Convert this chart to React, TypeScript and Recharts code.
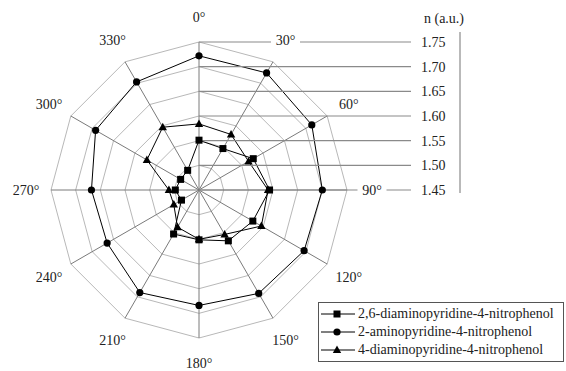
import React from "react";
import {
  RadarChart,
  Radar,
  PolarGrid,
  PolarAngleAxis,
  PolarRadiusAxis,
  Legend,
} from "recharts";

const angles = ["0°", "30°", "60°", "90°", "120°", "150°", "180°", "210°", "240°", "270°", "300°", "330°"];
const diaminopyridine = [1.551, 1.547, 1.577, 1.593, 1.576, 1.569, 1.551, 1.553, 1.491, 1.498, 1.493, 1.496];
const aminopyridine = [1.722, 1.724, 1.714, 1.7, 1.696, 1.692, 1.684, 1.69, 1.665, 1.668, 1.692, 1.703];
const diaminopyridine4 = [1.584, 1.58, 1.566, 1.59, 1.596, 1.554, 1.55, 1.537, 1.509, 1.511, 1.572, 1.597];

const data = angles.map((a, i) => ({
  angle: a,
  sq: diaminopyridine[i],
  ci: aminopyridine[i],
  tr: diaminopyridine4[i],
}));

const FONT = "Liberation Serif, Times New Roman, serif";
const TEXT = "#222";

function marker(kind: string, cx: number, cy: number, key?: any) {
  if (kind === "sq") return <rect key={key} x={cx - 3.5} y={cy - 3.5} width={7} height={7} fill="#000" />;
  if (kind === "ci") return <circle key={key} cx={cx} cy={cy} r={3.6} fill="#000" />;
  return <path key={key} d={`M${cx},${cy - 4.5}L${cx + 4.2},${cy + 3}L${cx - 4.2},${cy + 3}Z`} fill="#000" />;
}

const dotFor = (kind: string) => (p: any) => marker(kind, p.cx, p.cy, `${kind}-${p.index}`);

const AngleTick = (p: any) => {
  const a = (p.payload.coordinate * Math.PI) / 180;
  const r = (p.radius ?? 148) + 25;
  const x = p.cx + r * Math.cos(a);
  const y = p.cy - r * Math.sin(a);
  const label = String(p.payload.value);
  const w = label.length * 7 + 8;
  return (
    <g>
      <rect x={x - w / 2} y={y - 9} width={w} height={18} fill="#fff" />
      <text x={x} y={y} dy={5} textAnchor="middle" fontFamily={FONT} fontSize={14} fill={TEXT}>
        {label}
      </text>
    </g>
  );
};

const RadiusTick = (p: any) => {
  return (
    <g>
      <line x1={p.x} y1={p.y} x2={411} y2={p.y} stroke="#8a8a8a" strokeWidth={1.2} />
      <text x={421} y={p.y} dy={5} textAnchor="start" fontFamily={FONT} fontSize={14} fill={TEXT}>
        {Number(p.payload.value).toFixed(2)}
      </text>
    </g>
  );
};

const LegendBox = (props: any) => {
  const items = props.payload || [];
  return (
    <div
      style={{
        border: "1px solid #555",
        background: "#fff",
        padding: "2px 0",
        fontFamily: FONT,
        fontSize: 14,
        color: TEXT,
        lineHeight: "18px",
        width: 244,
      }}
    >
      {items.map((it: any) => (
        <div key={it.value} style={{ display: "flex", alignItems: "center", height: 18 }}>
          <svg width={38} height={18} style={{ flex: "none" }}>
            <line x1={2} y1={9} x2={36} y2={9} stroke="#000" strokeWidth={1} />
            {marker(it.dataKey, 18, 9)}
          </svg>
          <span style={{ marginLeft: 1, whiteSpace: "nowrap" }}>{it.value}</span>
        </div>
      ))}
    </div>
  );
};

export default function App() {
  return (
    <div style={{ position: "absolute", left: 0, top: 0, width: 566, height: 371, background: "#fff", fontFamily: FONT }}>
      <RadarChart
        width={566}
        height={371}
        cx={199}
        cy={190}
        outerRadius={148}
        data={data}
        margin={{ top: 0, right: 0, bottom: 0, left: 0 }}
      >
        <PolarGrid gridType="polygon" radialLines={false} stroke="#b8b8b8" />
        <PolarGrid gridType="polygon" polarRadius={[0]} stroke="#7a7a7a" />
        <PolarRadiusAxis
          angle={90}
          type="number"
          scale="linear"
          domain={[1.45, 1.75]}
          allowDataOverflow={true}
          allowDecimals={true}
          tickCount={7}
          axisLine={false}
          tickLine={false}
          tick={RadiusTick}
        />
        <Radar
          name="2,6-diaminopyridine-4-nitrophenol"
          dataKey="sq"
          stroke="#000"
          strokeWidth={1}
          fill="none"
          fillOpacity={0}
          dot={dotFor("sq")}
          isAnimationActive={false}
        />
        <Radar
          name="2-aminopyridine-4-nitrophenol"
          dataKey="ci"
          stroke="#000"
          strokeWidth={1}
          fill="none"
          fillOpacity={0}
          dot={dotFor("ci")}
          isAnimationActive={false}
        />
        <Radar
          name="4-diaminopyridine-4-nitrophenol"
          dataKey="tr"
          stroke="#000"
          strokeWidth={1}
          fill="none"
          fillOpacity={0}
          dot={dotFor("tr")}
          isAnimationActive={false}
        />
        <PolarAngleAxis dataKey="angle" axisLine={false} tickLine={false} tick={AngleTick} />
        <Legend
          content={LegendBox}
          wrapperStyle={{ position: "absolute", left: 318, top: 302, width: 246 }}
        />
      </RadarChart>
      <svg width={566} height={371} style={{ position: "absolute", left: 0, top: 0, pointerEvents: "none" }}>
        <line x1={460} y1={32} x2={460} y2={193} stroke="#8a8a8a" strokeWidth={1.2} />
        <text x={444} y={18} dy={5} textAnchor="middle" fontFamily={FONT} fontSize={14} fill={TEXT}>
          n (a.u.)
        </text>
      </svg>
    </div>
  );
}
